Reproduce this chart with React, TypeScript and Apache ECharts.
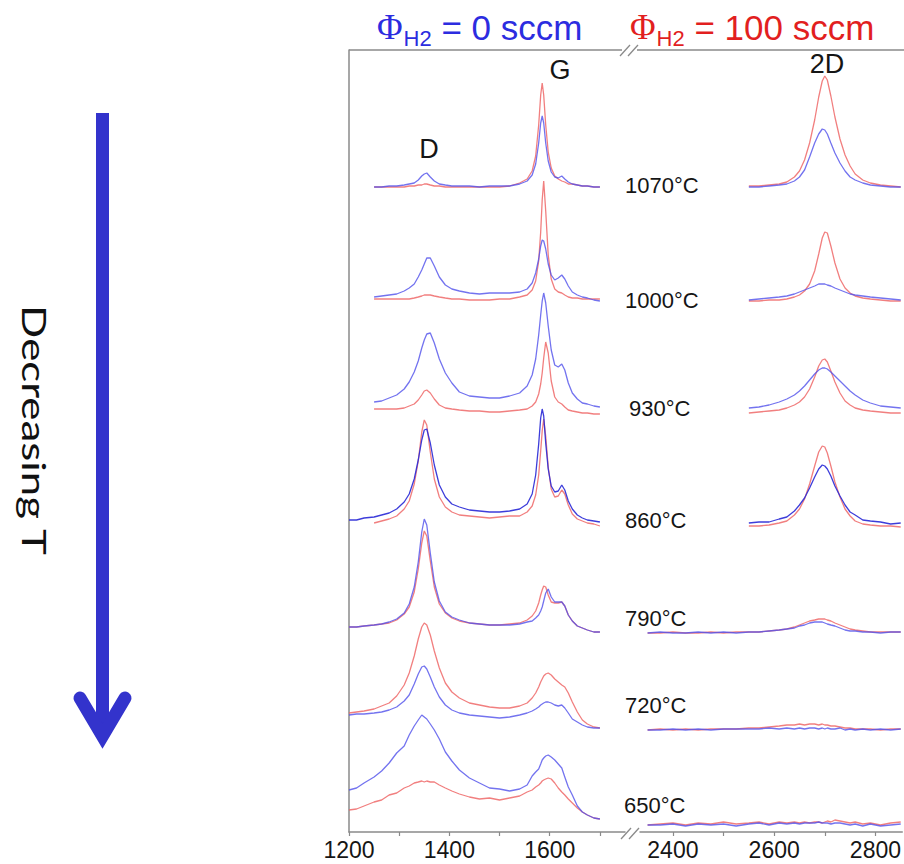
import React, { useEffect, useRef } from 'react';
import * as echarts from 'echarts';

// Raman shift sample points (cm^-1)
const L_X = [1200,1215,1230,1250,1265,1280,1295,1310,1320,1330,1338,1345,1350,1355,1362,1370,1380,1392,1405,1420,1440,1460,1480,1500,1520,1540,1555,1565,1572,1578,1582,1585,1588,1592,1597,1603,1610,1617,1624,1630,1637,1645,1655,1665,1675,1688,1700];
const R_X = [2350,2375,2400,2425,2450,2475,2500,2525,2550,2570,2590,2610,2625,2640,2650,2660,2670,2680,2688,2695,2700,2705,2712,2720,2730,2740,2750,2760,2775,2790,2810,2830,2850];

const TEMPS = ['1070°C','1000°C','930°C','860°C','790°C','720°C','650°C'];
// vertical offset of each spectrum pair (arbitrary units)
const OFFSETS = [645,531,419,305,199,102,7];

const L_TICKS = [1200,1300,1400,1500,1600,1700];
const L_LABELS = [1200,1400,1600];
const R_TICKS = [2400,2500,2600,2700,2800];
const R_LABELS = [2400,2600,2800];

const N = null;
// Φ_H2 = 0 sccm (blue), D/G region
const B1070_L = [N,N,N,0,0,1,1,2,3,4,7,11,13,14,10,6,3,2,1,1,1,0,1,1,1,3,6,12,23,44,64,71,64,44,26,15,10,9,11,8,5,3,2,1,1,0,0];
const B1000_L = [N,N,N,4,5,6,7,10,13,17,24,31,37,43,43,35,24,16,12,10,8,7,8,8,8,9,12,18,28,42,55,61,60,52,37,26,21,23,26,22,15,9,6,4,3,1,0];
const B930_L = [N,N,N,11,12,15,18,24,31,41,52,65,73,79,80,70,54,40,30,21,17,16,15,15,17,20,27,38,54,78,98,112,120,110,87,63,48,46,49,43,30,20,14,10,9,7,6];
const B860_L = [7,7,9,10,12,14,18,25,33,48,67,87,97,98,84,62,42,30,23,20,17,16,15,15,16,18,23,33,52,83,109,118,111,84,58,41,35,36,42,37,26,18,12,9,7,6,5];
const B790_L = [6,6,7,8,9,11,14,20,29,46,71,101,114,108,80,51,32,21,16,13,10,9,8,8,8,9,11,12,15,18,22,26,32,40,44,36,31,31,31,27,18,12,7,5,3,1,1];
const B720_L = [15,16,16,17,18,20,23,29,35,46,56,63,64,61,53,43,33,25,20,17,15,14,13,12,13,15,17,19,21,23,25,26,27,28,28,27,25,24,25,22,17,11,8,5,3,2,2];
const B650_L = [35,37,42,48,54,62,72,79,90,99,105,110,108,106,101,95,86,73,64,55,47,42,37,36,34,36,40,49,53,56,61,65,67,69,70,68,65,61,57,48,38,30,19,13,10,7,6];
// Φ_H2 = 100 sccm (red), D/G region
const R1070_L = [N,N,N,0,0,0,0,0,1,1,2,2,3,3,2,1,1,0,0,0,0,0,0,0,1,4,8,16,31,62,92,104,92,62,35,19,11,8,6,5,3,3,2,1,1,0,0];
const R1000_L = [N,N,N,2,2,2,2,2,2,3,4,5,6,6,6,5,4,3,2,2,1,1,1,2,2,4,6,11,20,40,69,101,120,90,46,22,12,9,8,6,4,3,3,2,2,2,2];
const R930_L = [N,N,N,4,4,4,4,5,7,9,13,18,22,23,20,14,8,5,4,3,2,2,1,1,2,3,4,7,11,19,29,40,55,71,60,32,16,11,9,6,3,2,1,0,0,-1,-1];
const R860_L = [N,N,N,4,6,8,11,18,26,43,66,95,107,102,75,48,30,20,15,12,11,10,9,10,11,11,15,21,32,52,76,96,108,91,60,38,30,31,37,33,22,13,8,6,4,3,1];
const R790_L = [6,6,7,8,9,10,13,19,26,41,64,90,102,97,72,46,29,20,15,12,10,9,8,8,9,10,13,17,22,30,38,43,47,46,38,31,30,30,31,27,18,12,7,5,3,1,1];
const R720_L = [17,18,19,21,24,27,34,45,57,74,91,103,107,105,95,79,62,47,38,32,27,25,23,22,22,24,27,32,37,43,48,51,54,56,57,55,51,48,45,43,37,28,18,10,6,3,2];
const R650_L = [15,16,19,23,25,30,32,37,39,42,43,44,43,44,43,43,40,37,34,31,28,26,27,25,27,29,33,35,38,40,42,44,45,46,47,46,42,37,33,30,26,22,17,13,10,7,6];
// 2D region
const B1070_R = [N,N,N,N,N,N,N,N,0,0,1,2,3,6,10,17,30,44,53,58,57,53,44,34,24,16,10,7,4,2,1,0,0];
const B1000_R = [N,N,N,N,N,N,N,N,1,2,3,4,5,7,9,11,13,15,17,17,17,16,15,13,11,9,7,6,5,4,3,2,1];
const B930_R = [N,N,N,N,N,N,N,N,5,6,8,11,14,18,22,27,33,39,43,45,45,44,41,37,32,27,22,18,13,10,7,6,5];
const B860_R = [N,N,N,N,N,N,N,N,4,5,5,8,10,16,22,29,39,50,58,62,61,58,51,41,31,22,15,12,7,6,5,3,4];
const B790_R = [0,1,0,0,1,0,1,0,1,1,2,3,4,5,7,8,10,11,11,11,10,9,8,7,5,3,2,2,1,1,0,1,1];
const B720_R = [0,0,1,0,1,0,1,1,1,1,2,1,2,1,2,1,2,2,1,2,1,2,1,1,2,0,1,0,1,0,1,0,1];
const B650_R = [0,0,1,-1,1,0,1,-1,1,2,0,2,1,2,1,2,2,2,3,2,2,2,1,2,2,1,0,1,-1,1,-1,0,1];
const R1070_R = [N,N,N,N,N,N,N,N,1,1,2,3,5,10,16,27,44,67,90,106,111,107,91,70,48,32,21,13,7,4,2,1,0];
const R1000_R = [N,N,N,N,N,N,N,N,0,0,1,1,2,4,6,10,17,30,47,63,69,68,55,38,22,13,8,5,3,2,1,0,0];
const R930_R = [N,N,N,N,N,N,N,N,0,1,2,3,5,8,11,16,24,36,47,53,54,51,42,31,20,12,8,5,3,2,1,0,0];
const R860_R = [N,N,N,N,N,N,N,N,1,1,2,4,6,12,18,28,43,61,75,81,80,74,61,45,30,18,11,6,3,2,1,1,0];
const R790_R = [0,0,1,0,0,1,0,1,1,1,2,3,4,6,8,10,12,13,14,14,14,13,12,10,8,6,4,3,2,1,1,1,1];
const R720_R = [0,1,0,1,0,1,1,1,2,2,3,4,5,5,6,5,6,6,5,6,5,5,4,4,3,2,2,1,1,1,0,1,1];
const R650_R = [0,1,2,0,2,1,3,1,2,3,1,3,2,3,2,3,2,3,3,2,3,4,3,5,4,3,2,3,1,2,0,2,3];

const BLUE_L = [B1070_L,B1000_L,B930_L,B860_L,B790_L,B720_L,B650_L];
const RED_L = [R1070_L,R1000_L,R930_L,R860_L,R790_L,R720_L,R650_L];
const BLUE_R = [B1070_R,B1000_R,B930_R,B860_R,B790_R,B720_R,B650_R];
const RED_R = [R1070_R,R1000_R,R930_R,R860_R,R790_R,R720_R,R650_R];

const BLUE = 'rgba(80,80,235,0.8)';
const BLUE_DARK = 'rgba(45,45,215,0.92)';
const RED = 'rgba(238,95,95,0.8)';
const AXIS = '#8a8a8a';

function pts(xs: number[], ys: (number | null)[], off: number) {
  const out: number[][] = [];
  ys.forEach((v, i) => {
    if (v !== null) out.push([xs[i], off + v]);
  });
  return out;
}

function line(name: string, data: number[][], axis: number, color: string, width: number) {
  return {
    name,
    type: 'line',
    xAxisIndex: axis,
    yAxisIndex: axis,
    data,
    symbol: 'none',
    silent: true,
    lineStyle: { color, width },
    itemStyle: { color },
  };
}

export default function App() {
  const ref = useRef<HTMLDivElement>(null);
  useEffect(() => {
    if (!ref.current) return;
    const chart = echarts.init(ref.current, null, { renderer: 'svg' });
    const series: any[] = [];
    TEMPS.forEach((t, r) => {
      const off = OFFSETS[r];
      const bc = r === 3 ? BLUE_DARK : BLUE;
      series.push(line(t + ' 100 sccm D/G', pts(L_X, RED_L[r], off), 0, RED, 1.3));
      series.push(line(t + ' 0 sccm D/G', pts(L_X, BLUE_L[r], off), 0, bc, 1.3));
      series.push(line(t + ' 100 sccm 2D', pts(R_X, RED_R[r], off), 1, RED, 1.3));
      series.push(line(t + ' 0 sccm 2D', pts(R_X, BLUE_R[r], off), 1, bc, 1.3));
    });

    const tempY = [185, 300, 408, 520, 618, 705, 805];
    const tempX = [625, 625, 629, 625, 625, 625, 624];
    const txt = (text: string, x: number, y: number, size: number, extra: any = {}) => ({
      type: 'text',
      x,
      y,
      silent: true,
      style: {
        text,
        fontSize: size,
        fontFamily: 'Liberation Sans, Arial, sans-serif',
        fill: '#151515',
        textAlign: 'left',
        textVerticalAlign: 'middle',
        ...extra,
      },
    });

    const richTitle = (val: string, color: string) => ({
      text: '{p|Φ}{s|H2}{t| = ' + val + ' sccm}',
      textAlign: 'left',
      textVerticalAlign: 'middle',
      rich: {
        p: { fontSize: 35, fontFamily: 'Liberation Serif, serif', fill: color },
        s: { fontSize: 22, fontFamily: 'Liberation Sans, Arial, sans-serif', fill: color, padding: [22, 0, 0, 1] },
        t: { fontSize: 35, fontFamily: 'Liberation Sans, Arial, sans-serif', fill: color },
      },
    });

    const brk = (x: number, y: number) => [
      { type: 'line', silent: true, shape: { x1: x, y1: y + 6, x2: x + 10, y2: y - 5 }, style: { stroke: AXIS, lineWidth: 1.3 } },
      { type: 'line', silent: true, shape: { x1: x + 8, y1: y + 6, x2: x + 18, y2: y - 5 }, style: { stroke: AXIS, lineWidth: 1.3 } },
    ];

    const graphic: any[] = [
      { type: 'line', silent: true, shape: { x1: 349, y1: 50, x2: 622, y2: 50 }, style: { stroke: AXIS, lineWidth: 1.5 } },
      { type: 'line', silent: true, shape: { x1: 637, y1: 50, x2: 904, y2: 50 }, style: { stroke: AXIS, lineWidth: 1.5 } },
      { type: 'rect', silent: true, shape: { x: 624, y: 826, width: 14, height: 12 }, style: { fill: '#ffffff' } },
      ...brk(620, 50),
      ...brk(621, 833),
      { type: 'text', x: 377, y: 27, silent: true, style: richTitle('0', '#2c2ce0') },
      { type: 'text', x: 630, y: 27, silent: true, style: richTitle('100', '#e21f1f') },
      txt('D', 429, 149, 27, { textAlign: 'center' }),
      txt('G', 560, 70, 27, { textAlign: 'center' }),
      txt('2D', 827, 64, 27, { textAlign: 'center' }),
      ...TEMPS.map((t, i) => txt(t, tempX[i], tempY[i], 22)),
      // arrow
      { type: 'rect', silent: true, shape: { x: 96, y: 113, width: 13, height: 615 }, style: { fill: '#3333cc' } },
      {
        type: 'polyline',
        silent: true,
        shape: { points: [[80, 698], [102.5, 736], [125, 698]] },
        style: { stroke: '#3333cc', lineWidth: 13, lineCap: 'round', lineJoin: 'miter', fill: null },
      },
      {
        type: 'text',
        x: 35,
        y: 430,
        rotation: -Math.PI / 2,
        scaleX: 1.33,
        silent: true,
        style: {
          text: 'Decreasing T',
          fontSize: 33,
          fontFamily: 'Lato, Open Sans, sans-serif',
          fill: '#111111',
          textAlign: 'center',
          textVerticalAlign: 'middle',
        },
      },
    ];

    const axisLbl = (vals: number[]) => ({
      customValues: vals,
      formatter: (v: number) => String(Math.round(v)),
      fontSize: 23,
      fontFamily: 'Liberation Sans, Arial, sans-serif',
      color: '#151515',
      margin: 6,
    });

    chart.setOption({
      animation: false,
      backgroundColor: '#ffffff',
      grid: [
        { left: 349, top: 50, width: 276, height: 782 },
        { left: 640, top: 50, width: 264, height: 782 },
      ],
      xAxis: [
        {
          type: 'value', gridIndex: 0, min: 1200, max: 1750,
          axisLine: { show: true, onZero: false, lineStyle: { color: AXIS, width: 1.5 } },
          axisTick: { show: true, customValues: L_TICKS, length: 4, lineStyle: { color: AXIS, width: 1.2 } },
          axisLabel: axisLbl(L_LABELS),
          splitLine: { show: false },
        },
        {
          type: 'value', gridIndex: 1, min: 2335, max: 2853,
          axisLine: { show: true, onZero: false, lineStyle: { color: AXIS, width: 1.5 } },
          axisTick: { show: true, customValues: R_TICKS, length: 4, lineStyle: { color: AXIS, width: 1.2 } },
          axisLabel: axisLbl(R_LABELS),
          splitLine: { show: false },
        },
      ],
      yAxis: [
        {
          type: 'value', gridIndex: 0, min: 0, max: 782,
          axisLine: { show: true, onZero: false, lineStyle: { color: AXIS, width: 1.5 } },
          axisTick: { show: false }, axisLabel: { show: false }, splitLine: { show: false },
        },
        { type: 'value', gridIndex: 1, min: 0, max: 782, show: false, splitLine: { show: false } },
      ],
      series,
      graphic,
    });
    return () => chart.dispose();
  }, []);
  return <div ref={ref} style={{ position: 'absolute', left: 0, top: 0, width: 904, height: 864 }} />;
}
